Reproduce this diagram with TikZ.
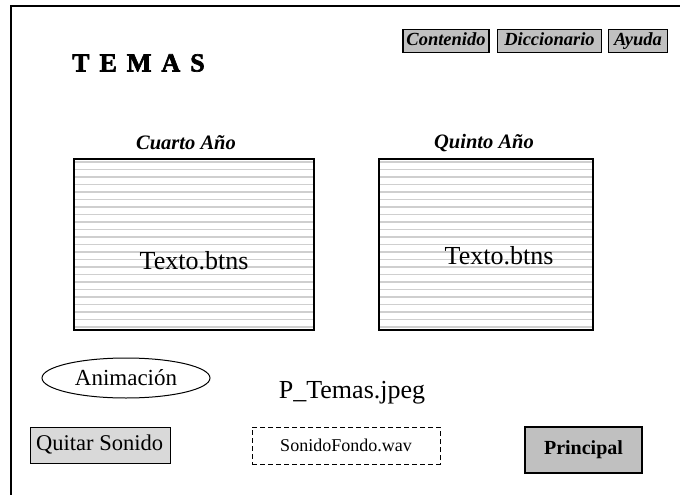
\documentclass[tikz,border=0pt]{standalone}
\usepackage{fontspec}
\setmainfont{Liberation Serif}
\newfontfamily\temasfont[FakeBold=2.5]{Liberation Serif Bold}
\usetikzlibrary{shapes.geometric}
\definecolor{btngray}{HTML}{C0C0C0}
\definecolor{lightbtn}{HTML}{D9D9D9}
\definecolor{stripe}{HTML}{CFCFCF}
\tikzset{
  topbtn/.style={draw=black, line width=1.6pt, fill=btngray, inner sep=1pt, text height=13pt, text depth=4pt, font=\fontsize{18.5}{20}\selectfont\bfseries\itshape},
  yearlabel/.style={font=\fontsize{20.5}{22}\selectfont\bfseries\itshape},
  panel/.style={draw=black, line width=1.6pt},
  paneltext/.style={font=\fontsize{26}{28}\selectfont},
  frameline/.style={draw=black, line width=1.4pt},
}
\begin{document}
\begin{tikzpicture}[x=1pt,y=-1pt]
\useasboundingbox (0,0) rectangle (680,495);
% outer frame (left and top edges)
\coordinate (fTL) at (11,6);
\coordinate (fTR) at (680,6);
\coordinate (fBL) at (11,495);
\draw[frameline] (fBL) -- (fTL) -- (fTR);

% top buttons
\node[topbtn, minimum width=86pt, minimum height=23pt] (cont) at (446,41) {Contenido};
\node[topbtn, minimum width=104pt, minimum height=23pt] (dicc) at (549.5,41) {Diccionario};
\node[topbtn, minimum width=59pt, minimum height=23pt] (ayuda) at (638,41) {Ayuda};

% title
\node[anchor=west, inner sep=0pt, font=\fontsize{26}{28}\selectfont\temasfont] (temas) at (72,63) {T\hspace{10pt}E\hspace{10pt}M\hspace{10pt}A\hspace{10pt}S};

% year labels
\node[yearlabel] (cuarto) at (186,143) {Cuarto Año};
\node[yearlabel] (quinto) at (484,143) {Quinto Año};

% striped panels
\foreach \xa/\xb/\nm in {73/313/left, 378/592/right}{
  \begin{scope}
    \clip (\xa,158) rectangle (\xb,329);
    \foreach \yy in {162,169.5,...,330}{
      \draw[stripe, line width=1.4pt] (\xa,\yy) -- (\xb,\yy);
    }
  \end{scope}
  \node[panel, minimum width=\xb pt-\xa pt, minimum height=171pt, anchor=north west, inner sep=0pt] (\nm) at (\xa,158) {};
}
\node[paneltext, inner sep=0pt] (t1) at (194,261) {Texto.btns};
\node[paneltext, inner sep=0pt] (t2) at (499,256) {Texto.btns};

% animation ellipse
\node[ellipse, draw=black, line width=1pt, minimum width=168pt, minimum height=40pt, inner sep=0pt, font=\fontsize{23}{25}\selectfont] (anim) at (126,378) {Animación};

% image name
\node[font=\fontsize{26}{28}\selectfont] (img) at (352,393) {P\_Temas.jpeg};

% bottom buttons
\node[draw=black, line width=1pt, fill=lightbtn, minimum width=140pt, minimum height=36pt, anchor=north west, inner sep=0pt] (quitar) at (30,427) {};
\node[anchor=west, font=\fontsize{22.5}{24}\selectfont, inner sep=0pt] (quitart) at ([xshift=6pt,yshift=1pt]quitar.west) {Quitar Sonido};

\node[draw=black, line width=1pt, dashed, dash pattern=on 5pt off 3pt, minimum width=188pt, minimum height=37pt, font=\fontsize{18}{20}\selectfont] (sonido) at (346,445.5) {SonidoFondo.wav};

\node[draw=black, line width=1.6pt, fill=btngray, minimum width=117pt, minimum height=46pt, font=\fontsize{20}{22}\selectfont\bfseries] (principal) at (583.5,450) {Principal};
\end{tikzpicture}
\end{document}
